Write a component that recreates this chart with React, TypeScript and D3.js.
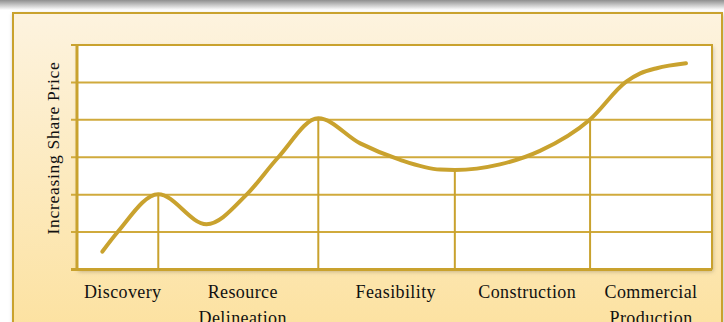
import React from "react";
import * as d3 from "d3";

// Curve of share price through the mining life cycle (x: time units 0-10, y: grid units 0-6)
const curveX = [0.4, 0.64, 1.28, 2.04, 2.67, 3.17, 3.8, 4.46, 5.09, 5.72, 5.95, 6.66, 7.29, 8.08, 8.65, 8.87, 9.13, 9.59];
const curveY = [0.48, 1.0, 2.01, 1.21, 2.0, 3.0, 4.04, 3.37, 2.93, 2.67, 2.66, 2.81, 3.17, 4.01, 5.02, 5.24, 5.38, 5.51];

// Stage boundary markers (vertical drop lines)
const markerX = [1.28, 3.8, 5.95, 8.08];
const markerY = [2.01, 4.04, 2.66, 4.01];

// Stage labels
const stageLabels = [["Discovery"], ["Resource", "Delineation"], ["Feasibility"], ["Construction"], ["Commercial", "Production"]];
const stageLabelX = [0.72, 2.61, 5.02, 7.09, 9.04];

const yTicks = [0, 1, 2, 3, 4, 5, 6];
const yAxisTitle = "Increasing Share Price";

export default function App() {
  const W = 724, H = 322;
  const left = 77, right = 712, top = 45, bottom = 269.5;
  const x = d3.scaleLinear().domain([0, 10]).range([left, right]);
  const y = d3.scaleLinear().domain([0, 6]).range([bottom, top]);
  const gold = "#C9A22E";
  const gridGold = "#D0AA3C";
  const pts: [number, number][] = curveX.map((v, i) => [v, curveY[i]]);
  const line = d3
    .line<[number, number]>()
    .x((d) => x(d[0]))
    .y((d) => y(d[1]))
    .curve(d3.curveMonotoneX);

  return (
    <svg width={W} height={H} style={{ position: "absolute", left: 0, top: 0 }} fontFamily="'Liberation Serif', serif">
      <defs>
        <linearGradient id="topShade" x1="0" y1="0" x2="0" y2="1">
          <stop offset="0" stopColor="#8f8f8f" />
          <stop offset="1" stopColor="#ffffff" />
        </linearGradient>
        <linearGradient id="panelFill" x1="0" y1="0" x2="0" y2="1">
          <stop offset="0" stopColor="#FDF3DF" />
          <stop offset="1" stopColor="#FCE19E" />
        </linearGradient>
        <filter id="sh" x="-5%" y="-5%" width="110%" height="115%">
          <feDropShadow dx="1" dy="2" stdDeviation="2" floodColor="#000" floodOpacity="0.25" />
        </filter>
      </defs>
      <rect x={0} y={0} width={W} height={H} fill="#fff" />
      <rect x={0} y={0} width={W} height={10} fill="url(#topShade)" />
      <rect x={13} y={13} width={709} height={330} fill="url(#panelFill)" stroke={gold} strokeWidth={2} filter="url(#sh)" />
      <rect x={left} y={top} width={right - left} height={bottom - top} fill="#fff" filter="url(#sh)" />
      {yTicks.map((t) => (
        <line key={t} x1={71} x2={right} y1={y(t)} y2={y(t)} stroke={t === 0 || t === 6 ? gold : gridGold} strokeWidth={t === 0 ? 3 : 2} />
      ))}
      <line x1={left} x2={left} y1={top} y2={bottom + 1.5} stroke={gold} strokeWidth={3} />
      <line x1={right} x2={right} y1={top - 1} y2={bottom} stroke={gold} strokeWidth={2} />
      {markerX.map((m, i) => (
        <line key={i} x1={x(m)} x2={x(m)} y1={y(markerY[i])} y2={bottom} stroke={gold} strokeWidth={2} />
      ))}
      <path d={line(pts) || ""} fill="none" stroke={gold} strokeWidth={4} strokeLinecap="round" />
      {stageLabels.map((lines, i) => (
        <text key={i} x={x(stageLabelX[i])} y={298} textAnchor="middle" fontSize={18} letterSpacing={0.4} fill="#111">
          {lines.map((l, j) => (
            <tspan key={j} x={x(stageLabelX[i])} dy={j === 0 ? 0 : 26}>
              {l}
            </tspan>
          ))}
        </text>
      ))}
      <text transform={`translate(59,148) rotate(-90)`} textAnchor="middle" fontSize={17.5} letterSpacing={0.7} fill="#111">
        {yAxisTitle}
      </text>
    </svg>
  );
}
